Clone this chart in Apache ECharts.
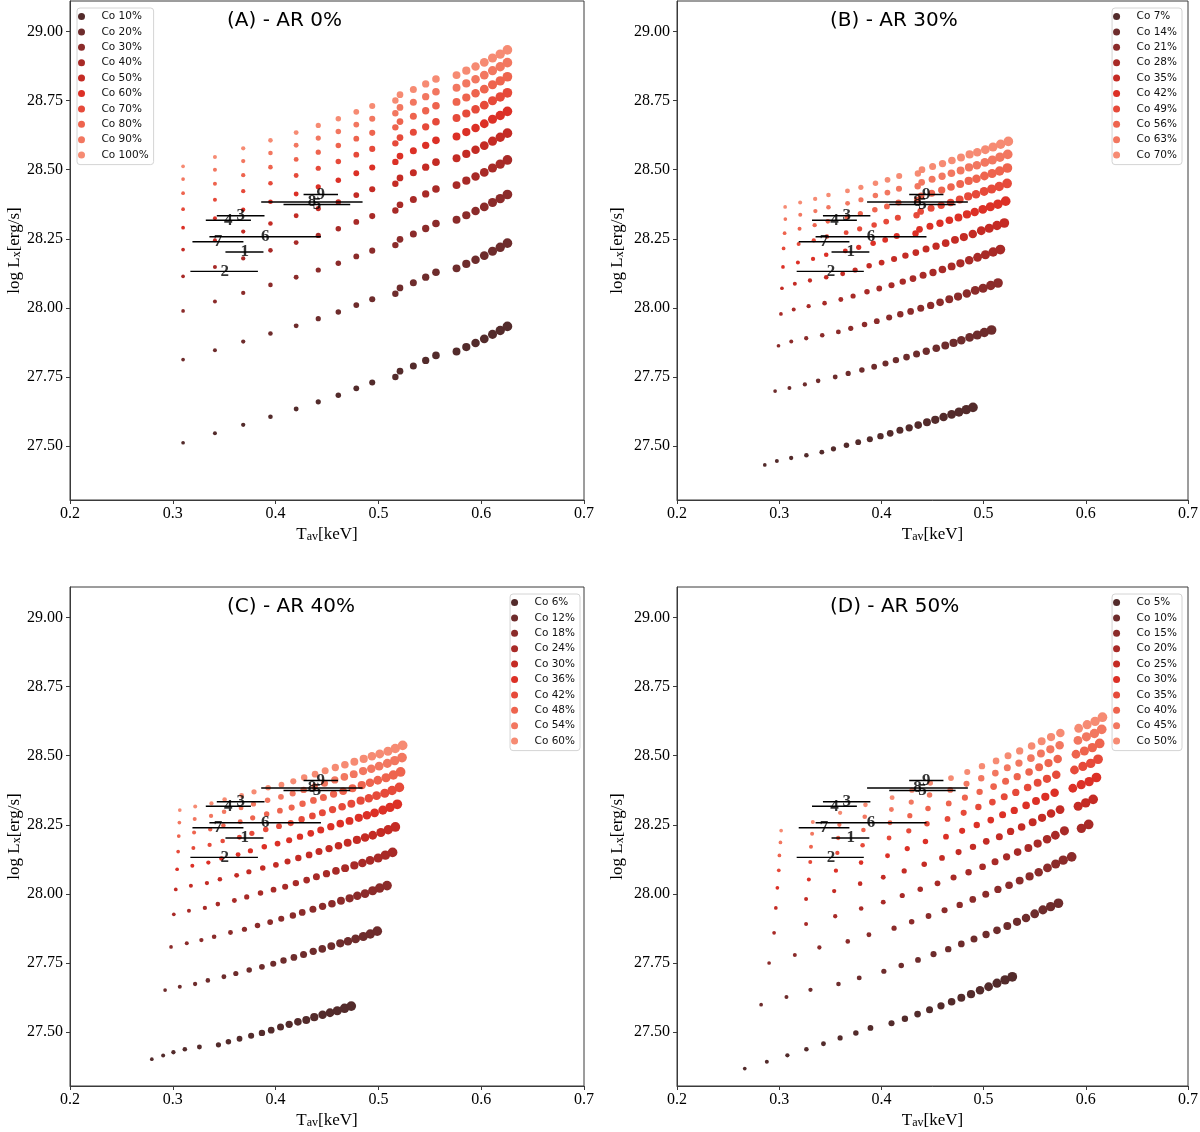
<!DOCTYPE html>
<html>
<head>
<meta charset="utf-8">
<script src="https://cdn.jsdelivr.net/npm/echarts@6.0.0/dist/echarts.min.js"></script>
<style>
  html, body { margin: 0; padding: 0; background: #fff; }
  #container { width: 1200px; height: 1132px; }
</style>
</head>
<body>
<div id="container"></div>
<script>
var dom = document.getElementById('container');
var myChart = echarts.init(dom, null, { renderer: 'canvas' });

// ---- data ----
var panelTitles = ['(A) - AR 0%', '(B) - AR 30%', '(C) - AR 40%', '(D) - AR 50%'];
var xTicks = [0.2, 0.3, 0.4, 0.5, 0.6, 0.7];
var yTicks = [27.5, 27.75, 28.0, 28.25, 28.5, 28.75, 29.0];

// panel A: every Co level shares the same temperatures
var coA = ['Co 10%', 'Co 20%', 'Co 30%', 'Co 40%', 'Co 50%', 'Co 60%', 'Co 70%', 'Co 80%', 'Co 90%', 'Co 100%'];
var tempA = [0.310, 0.341, 0.3685, 0.395, 0.420, 0.4415, 0.461, 0.4785, 0.494, 0.5165, 0.521, 0.534, 0.546, 0.556, 0.576, 0.5855, 0.5945, 0.603, 0.611, 0.6185, 0.6255];
var lumA = [
  [27.512, 27.546, 27.577, 27.606, 27.634, 27.660, 27.684, 27.709, 27.730, 27.750, 27.771, 27.790, 27.810, 27.828, 27.842, 27.858, 27.873, 27.888, 27.904, 27.918, 27.933],
  [27.813, 27.847, 27.878, 27.907, 27.935, 27.961, 27.985, 28.010, 28.031, 28.051, 28.072, 28.091, 28.111, 28.129, 28.143, 28.159, 28.174, 28.189, 28.205, 28.219, 28.234],
  [27.989, 28.023, 28.054, 28.083, 28.111, 28.137, 28.161, 28.186, 28.207, 28.227, 28.248, 28.267, 28.287, 28.305, 28.319, 28.335, 28.350, 28.365, 28.381, 28.395, 28.410],
  [28.114, 28.148, 28.179, 28.208, 28.236, 28.262, 28.286, 28.311, 28.332, 28.352, 28.373, 28.392, 28.412, 28.430, 28.444, 28.460, 28.475, 28.490, 28.506, 28.520, 28.535],
  [28.211, 28.245, 28.276, 28.305, 28.333, 28.359, 28.383, 28.408, 28.429, 28.449, 28.470, 28.489, 28.509, 28.527, 28.541, 28.557, 28.572, 28.587, 28.603, 28.617, 28.632],
  [28.290, 28.324, 28.355, 28.384, 28.412, 28.438, 28.462, 28.487, 28.508, 28.528, 28.549, 28.568, 28.588, 28.606, 28.620, 28.636, 28.651, 28.666, 28.682, 28.696, 28.711],
  [28.357, 28.391, 28.422, 28.451, 28.479, 28.505, 28.529, 28.554, 28.575, 28.595, 28.616, 28.635, 28.655, 28.673, 28.687, 28.703, 28.718, 28.733, 28.749, 28.763, 28.778],
  [28.415, 28.449, 28.480, 28.509, 28.537, 28.563, 28.587, 28.612, 28.633, 28.653, 28.674, 28.693, 28.713, 28.731, 28.745, 28.761, 28.776, 28.791, 28.807, 28.821, 28.836],
  [28.466, 28.500, 28.531, 28.560, 28.588, 28.614, 28.638, 28.663, 28.684, 28.704, 28.725, 28.744, 28.764, 28.782, 28.796, 28.812, 28.827, 28.842, 28.858, 28.872, 28.887],
  [28.512, 28.546, 28.577, 28.606, 28.634, 28.660, 28.684, 28.709, 28.730, 28.750, 28.771, 28.790, 28.810, 28.828, 28.842, 28.858, 28.873, 28.888, 28.904, 28.918, 28.933]
];

// panel B
var coB = ['Co 7%', 'Co 14%', 'Co 21%', 'Co 28%', 'Co 35%', 'Co 42%', 'Co 49%', 'Co 56%', 'Co 63%', 'Co 70%'];
var tempB = [
  [0.2859, 0.2977, 0.3117, 0.3266, 0.3417, 0.3531, 0.3658, 0.3773, 0.3887, 0.3991, 0.4086, 0.4181, 0.4272, 0.4360, 0.4446, 0.4527, 0.4608, 0.4687, 0.4759, 0.4831, 0.4896],
  [0.2960, 0.3100, 0.3251, 0.3381, 0.3548, 0.3675, 0.3809, 0.3929, 0.4040, 0.4142, 0.4246, 0.4344, 0.4439, 0.4537, 0.4625, 0.4706, 0.4782, 0.4863, 0.4938, 0.5007, 0.5078],
  [0.2993, 0.3118, 0.3264, 0.3421, 0.3579, 0.3700, 0.3835, 0.3955, 0.4076, 0.4185, 0.4286, 0.4385, 0.4482, 0.4574, 0.4664, 0.4750, 0.4836, 0.4918, 0.4995, 0.5070, 0.5141],
  [0.3017, 0.3142, 0.3288, 0.3444, 0.3603, 0.3723, 0.3859, 0.3979, 0.4099, 0.4209, 0.4309, 0.4408, 0.4505, 0.4597, 0.4687, 0.4773, 0.4859, 0.4941, 0.5018, 0.5093, 0.5164],
  [0.3027, 0.3153, 0.3301, 0.3460, 0.3621, 0.3743, 0.3880, 0.4002, 0.4124, 0.4235, 0.4337, 0.4437, 0.4535, 0.4629, 0.4720, 0.4807, 0.4894, 0.4977, 0.5055, 0.5131, 0.5203],
  [0.3037, 0.3183, 0.3331, 0.3460, 0.3647, 0.3778, 0.3919, 0.4037, 0.4150, 0.4334, 0.4373, 0.4475, 0.4573, 0.4665, 0.4754, 0.4837, 0.4913, 0.4992, 0.5066, 0.5140, 0.5216],
  [0.3043, 0.3190, 0.3338, 0.3467, 0.3655, 0.3787, 0.3929, 0.4047, 0.4161, 0.4344, 0.4384, 0.4486, 0.4585, 0.4677, 0.4766, 0.4849, 0.4926, 0.5005, 0.5079, 0.5153, 0.5230],
  [0.3053, 0.3199, 0.3347, 0.3476, 0.3663, 0.3794, 0.3936, 0.4054, 0.4167, 0.4350, 0.4389, 0.4492, 0.4590, 0.4681, 0.4771, 0.4854, 0.4930, 0.5008, 0.5083, 0.5157, 0.5233],
  [0.3060, 0.3206, 0.3354, 0.3482, 0.3669, 0.3800, 0.3941, 0.4059, 0.4172, 0.4355, 0.4394, 0.4496, 0.4594, 0.4685, 0.4775, 0.4857, 0.4934, 0.5012, 0.5086, 0.5160, 0.5236],
  [0.3058, 0.3205, 0.3352, 0.3482, 0.3668, 0.3799, 0.3942, 0.4060, 0.4174, 0.4357, 0.4397, 0.4501, 0.4598, 0.4690, 0.4779, 0.4863, 0.4938, 0.5017, 0.5092, 0.5167, 0.5242]
];
var lumB = [
  [27.432, 27.446, 27.457, 27.467, 27.478, 27.490, 27.503, 27.514, 27.525, 27.536, 27.546, 27.557, 27.566, 27.576, 27.586, 27.595, 27.605, 27.615, 27.623, 27.632, 27.640],
  [27.699, 27.710, 27.723, 27.736, 27.750, 27.763, 27.775, 27.787, 27.799, 27.811, 27.822, 27.833, 27.843, 27.854, 27.864, 27.873, 27.883, 27.893, 27.902, 27.911, 27.920],
  [27.863, 27.878, 27.890, 27.901, 27.913, 27.926, 27.940, 27.952, 27.965, 27.977, 27.987, 27.999, 28.009, 28.020, 28.031, 28.041, 28.052, 28.063, 28.071, 28.081, 28.090],
  [27.978, 27.994, 28.006, 28.017, 28.030, 28.043, 28.058, 28.070, 28.082, 28.095, 28.106, 28.118, 28.128, 28.139, 28.150, 28.161, 28.172, 28.183, 28.192, 28.202, 28.211],
  [28.071, 28.087, 28.099, 28.111, 28.123, 28.137, 28.152, 28.164, 28.177, 28.189, 28.200, 28.213, 28.223, 28.234, 28.246, 28.256, 28.267, 28.279, 28.288, 28.298, 28.307],
  [28.148, 28.164, 28.177, 28.192, 28.206, 28.219, 28.234, 28.246, 28.260, 28.269, 28.284, 28.295, 28.306, 28.317, 28.327, 28.338, 28.347, 28.356, 28.366, 28.375, 28.386],
  [28.215, 28.231, 28.244, 28.258, 28.272, 28.286, 28.300, 28.312, 28.326, 28.335, 28.349, 28.360, 28.371, 28.381, 28.392, 28.403, 28.411, 28.421, 28.430, 28.439, 28.450],
  [28.270, 28.286, 28.299, 28.313, 28.328, 28.341, 28.355, 28.367, 28.381, 28.390, 28.405, 28.415, 28.426, 28.437, 28.448, 28.459, 28.467, 28.477, 28.486, 28.495, 28.506],
  [28.321, 28.337, 28.350, 28.364, 28.378, 28.391, 28.406, 28.417, 28.431, 28.440, 28.454, 28.465, 28.476, 28.487, 28.497, 28.508, 28.516, 28.526, 28.535, 28.545, 28.555],
  [28.365, 28.381, 28.394, 28.408, 28.423, 28.436, 28.451, 28.463, 28.477, 28.486, 28.500, 28.511, 28.522, 28.533, 28.544, 28.555, 28.563, 28.572, 28.582, 28.592, 28.602]
];

// panel C
var coC = ['Co 6%', 'Co 12%', 'Co 18%', 'Co 24%', 'Co 30%', 'Co 36%', 'Co 42%', 'Co 48%', 'Co 54%', 'Co 60%'];
var tempC = [
  [0.2796, 0.2906, 0.3006, 0.3117, 0.3259, 0.3444, 0.3541, 0.3649, 0.3762, 0.3867, 0.3957, 0.4048, 0.4132, 0.4217, 0.4298, 0.4376, 0.4457, 0.4529, 0.4600, 0.4671, 0.4736],
  [0.2925, 0.3068, 0.3217, 0.3341, 0.3497, 0.3613, 0.3743, 0.3867, 0.3977, 0.4077, 0.4178, 0.4272, 0.4366, 0.4454, 0.4542, 0.4629, 0.4704, 0.4778, 0.4853, 0.4921, 0.4989],
  [0.2983, 0.3136, 0.3278, 0.3402, 0.3561, 0.3697, 0.3824, 0.3947, 0.4055, 0.4168, 0.4259, 0.4363, 0.4457, 0.4548, 0.4636, 0.4720, 0.4795, 0.4870, 0.4944, 0.5012, 0.5084],
  [0.3010, 0.3157, 0.3312, 0.3438, 0.3599, 0.3719, 0.3853, 0.3980, 0.4093, 0.4197, 0.4302, 0.4397, 0.4495, 0.4587, 0.4676, 0.4766, 0.4844, 0.4919, 0.4998, 0.5068, 0.5138],
  [0.3029, 0.3176, 0.3332, 0.3458, 0.3621, 0.3740, 0.3875, 0.4003, 0.4116, 0.4221, 0.4326, 0.4422, 0.4520, 0.4612, 0.4701, 0.4791, 0.4870, 0.4945, 0.5024, 0.5095, 0.5165],
  [0.3042, 0.3190, 0.3346, 0.3473, 0.3635, 0.3755, 0.3890, 0.4019, 0.4132, 0.4237, 0.4342, 0.4439, 0.4537, 0.4629, 0.4719, 0.4809, 0.4888, 0.4963, 0.5043, 0.5113, 0.5184],
  [0.3052, 0.3200, 0.3358, 0.3485, 0.3648, 0.3769, 0.3904, 0.4033, 0.4147, 0.4253, 0.4358, 0.4455, 0.4554, 0.4647, 0.4737, 0.4827, 0.4907, 0.4982, 0.5062, 0.5133, 0.5204],
  [0.3058, 0.3207, 0.3364, 0.3492, 0.3656, 0.3777, 0.3913, 0.4042, 0.4156, 0.4262, 0.4368, 0.4465, 0.4564, 0.4657, 0.4748, 0.4838, 0.4918, 0.4994, 0.5074, 0.5145, 0.5216],
  [0.3064, 0.3213, 0.3372, 0.3499, 0.3664, 0.3785, 0.3922, 0.4052, 0.4166, 0.4273, 0.4379, 0.4476, 0.4576, 0.4669, 0.4760, 0.4851, 0.4931, 0.5007, 0.5087, 0.5159, 0.5230],
  [0.3068, 0.3218, 0.3376, 0.3504, 0.3669, 0.3790, 0.3927, 0.4057, 0.4172, 0.4278, 0.4384, 0.4482, 0.4581, 0.4674, 0.4766, 0.4857, 0.4937, 0.5013, 0.5093, 0.5164, 0.5236]
];
var lumC = [
  [27.402, 27.415, 27.427, 27.438, 27.446, 27.454, 27.465, 27.476, 27.487, 27.497, 27.507, 27.518, 27.528, 27.537, 27.544, 27.554, 27.563, 27.570, 27.577, 27.586, 27.594],
  [27.652, 27.664, 27.674, 27.687, 27.700, 27.712, 27.725, 27.736, 27.747, 27.759, 27.770, 27.781, 27.792, 27.801, 27.811, 27.821, 27.829, 27.837, 27.846, 27.855, 27.865],
  [27.808, 27.821, 27.833, 27.845, 27.860, 27.872, 27.886, 27.898, 27.910, 27.922, 27.933, 27.944, 27.955, 27.964, 27.975, 27.984, 27.993, 28.001, 28.011, 28.021, 28.030],
  [27.926, 27.939, 27.949, 27.963, 27.976, 27.989, 28.003, 28.015, 28.026, 28.039, 28.050, 28.062, 28.073, 28.083, 28.093, 28.103, 28.112, 28.121, 28.130, 28.140, 28.150],
  [28.016, 28.029, 28.039, 28.053, 28.067, 28.080, 28.094, 28.105, 28.117, 28.130, 28.141, 28.153, 28.164, 28.174, 28.185, 28.195, 28.204, 28.212, 28.222, 28.232, 28.242],
  [28.089, 28.102, 28.113, 28.128, 28.142, 28.156, 28.170, 28.182, 28.194, 28.207, 28.219, 28.231, 28.243, 28.254, 28.264, 28.275, 28.284, 28.293, 28.303, 28.313, 28.324],
  [28.153, 28.166, 28.177, 28.191, 28.205, 28.219, 28.233, 28.245, 28.256, 28.270, 28.282, 28.293, 28.305, 28.315, 28.326, 28.337, 28.346, 28.355, 28.364, 28.374, 28.385],
  [28.209, 28.222, 28.233, 28.247, 28.261, 28.275, 28.289, 28.301, 28.312, 28.326, 28.338, 28.349, 28.361, 28.371, 28.382, 28.393, 28.402, 28.411, 28.420, 28.430, 28.441],
  [28.258, 28.271, 28.282, 28.297, 28.311, 28.325, 28.339, 28.351, 28.363, 28.376, 28.388, 28.400, 28.412, 28.423, 28.433, 28.444, 28.453, 28.462, 28.472, 28.482, 28.493],
  [28.303, 28.316, 28.327, 28.341, 28.356, 28.369, 28.384, 28.395, 28.407, 28.421, 28.433, 28.445, 28.457, 28.467, 28.478, 28.488, 28.498, 28.506, 28.516, 28.526, 28.537]
];

// panel D
var coD = ['Co 5%', 'Co 10%', 'Co 15%', 'Co 20%', 'Co 25%', 'Co 30%', 'Co 35%', 'Co 40%', 'Co 45%', 'Co 50%'];
var tempD = [
  [0.2663, 0.2879, 0.3080, 0.3266, 0.3433, 0.3596, 0.3750, 0.3893, 0.4099, 0.4230, 0.4354, 0.4471, 0.4583, 0.4687, 0.4782, 0.4877, 0.4965, 0.5049, 0.5131, 0.5210, 0.5281],
  [0.2823, 0.3071, 0.3306, 0.3580, 0.3783, 0.4024, 0.4194, 0.4358, 0.4510, 0.4654, 0.4782, 0.4906, 0.5024, 0.5131, 0.5232, 0.5327, 0.5415, 0.5500, 0.5580, 0.5656, 0.5732],
  [0.2901, 0.3153, 0.3393, 0.3671, 0.3878, 0.4124, 0.4296, 0.4461, 0.4618, 0.4766, 0.4894, 0.5021, 0.5140, 0.5249, 0.5353, 0.5450, 0.5539, 0.5625, 0.5705, 0.5779, 0.5862],
  [0.2950, 0.3263, 0.3548, 0.3802, 0.4018, 0.4204, 0.4380, 0.4549, 0.4706, 0.4853, 0.4990, 0.5112, 0.5225, 0.5333, 0.5438, 0.5529, 0.5621, 0.5702, 0.5791, 0.5957, 0.6028],
  [0.2967, 0.3263, 0.3538, 0.3792, 0.4018, 0.4223, 0.4419, 0.4593, 0.4755, 0.4896, 0.5026, 0.5154, 0.5264, 0.5372, 0.5480, 0.5572, 0.5660, 0.5748, 0.5925, 0.5999, 0.6072],
  [0.2982, 0.3290, 0.3555, 0.3801, 0.4060, 0.4253, 0.4431, 0.4632, 0.4790, 0.4933, 0.5070, 0.5186, 0.5300, 0.5416, 0.5513, 0.5604, 0.5695, 0.5873, 0.5955, 0.6033, 0.6104],
  [0.2996, 0.3304, 0.3569, 0.3816, 0.4075, 0.4268, 0.4446, 0.4647, 0.4805, 0.4949, 0.5086, 0.5202, 0.5315, 0.5431, 0.5529, 0.5620, 0.5711, 0.5889, 0.5971, 0.6048, 0.6120],
  [0.3002, 0.3311, 0.3577, 0.3824, 0.4084, 0.4278, 0.4456, 0.4659, 0.4817, 0.4961, 0.5098, 0.5215, 0.5329, 0.5445, 0.5543, 0.5635, 0.5725, 0.5904, 0.5986, 0.6064, 0.6136],
  [0.3012, 0.3322, 0.3589, 0.3837, 0.4098, 0.4292, 0.4471, 0.4674, 0.4833, 0.4977, 0.5115, 0.5232, 0.5346, 0.5463, 0.5561, 0.5653, 0.5744, 0.5923, 0.6006, 0.6084, 0.6156],
  [0.3019, 0.3329, 0.3596, 0.3844, 0.4105, 0.4299, 0.4478, 0.4681, 0.4840, 0.4984, 0.5122, 0.5239, 0.5353, 0.5470, 0.5568, 0.5660, 0.5751, 0.5930, 0.6013, 0.6091, 0.6163]
];
var lumD = [
  [27.368, 27.393, 27.416, 27.438, 27.458, 27.479, 27.497, 27.515, 27.532, 27.548, 27.565, 27.581, 27.595, 27.610, 27.624, 27.637, 27.651, 27.664, 27.677, 27.689, 27.700],
  [27.599, 27.627, 27.653, 27.674, 27.696, 27.720, 27.741, 27.761, 27.782, 27.800, 27.819, 27.837, 27.853, 27.868, 27.884, 27.899, 27.913, 27.928, 27.942, 27.954, 27.966],
  [27.750, 27.779, 27.806, 27.828, 27.852, 27.876, 27.899, 27.920, 27.941, 27.960, 27.980, 27.999, 28.016, 28.031, 28.048, 28.063, 28.078, 28.094, 28.108, 28.122, 28.134],
  [27.859, 27.891, 27.919, 27.947, 27.970, 27.994, 28.017, 28.038, 28.059, 28.078, 28.098, 28.116, 28.134, 28.151, 28.166, 28.182, 28.198, 28.212, 28.228, 28.237, 28.251],
  [27.949, 27.981, 28.010, 28.037, 28.060, 28.083, 28.107, 28.130, 28.151, 28.170, 28.190, 28.207, 28.226, 28.242, 28.259, 28.275, 28.291, 28.305, 28.317, 28.329, 28.342],
  [28.022, 28.052, 28.084, 28.113, 28.138, 28.164, 28.189, 28.207, 28.228, 28.249, 28.267, 28.286, 28.302, 28.320, 28.336, 28.351, 28.366, 28.382, 28.395, 28.406, 28.421],
  [28.085, 28.115, 28.148, 28.176, 28.202, 28.228, 28.254, 28.271, 28.293, 28.314, 28.332, 28.351, 28.367, 28.385, 28.402, 28.416, 28.431, 28.448, 28.461, 28.472, 28.487],
  [28.139, 28.170, 28.202, 28.231, 28.257, 28.283, 28.309, 28.327, 28.348, 28.369, 28.388, 28.407, 28.424, 28.441, 28.458, 28.473, 28.488, 28.505, 28.517, 28.529, 28.544],
  [28.186, 28.217, 28.250, 28.279, 28.305, 28.332, 28.358, 28.376, 28.398, 28.418, 28.437, 28.456, 28.473, 28.491, 28.508, 28.523, 28.538, 28.555, 28.568, 28.580, 28.595],
  [28.229, 28.260, 28.293, 28.322, 28.348, 28.375, 28.401, 28.419, 28.441, 28.462, 28.481, 28.500, 28.517, 28.535, 28.552, 28.567, 28.582, 28.599, 28.612, 28.624, 28.639]
];

// observed stars (same in every panel)
var starIds = ['1', '2', '3', '4', '5', '6', '7', '8', '9'];
var starT   = [0.3699, 0.3506, 0.3660, 0.3540, 0.4402, 0.3899, 0.3439, 0.4353, 0.4439];
var starTLo = [0.3512, 0.3171, 0.3428, 0.3321, 0.4077, 0.3356, 0.3191, 0.3860, 0.4272];
var starTHi = [0.3882, 0.3828, 0.3892, 0.3760, 0.4726, 0.4441, 0.3687, 0.4846, 0.4607];
var starL   = [28.202, 28.132, 28.333, 28.317, 28.374, 28.257, 28.239, 28.383, 28.410];

// ---- styling ----
var palette = ['#532b2b', '#6e2c2c', '#8b2b2a', '#a82a27', '#c42b24', '#dc3026', '#e64a3a', '#ee644e', '#f27760', '#f68b73'];
var serif = 'Liberation Serif';
var sans = 'DejaVu Sans';
var frame = '#3a3a3a';

var grids = [
  { left: 70,  top: 1,   width: 514, height: 499 },
  { left: 677, top: 1,   width: 511, height: 499 },
  { left: 70,  top: 587, width: 514, height: 499 },
  { left: 677, top: 587, width: 511, height: 499 }
];
var yNameGap = [44, 51, 44, 51];
var titlePos = [[227, 11], [830, 11], [227, 597], [830, 597]];
var legendPos = [
  { left: 77, top: 8 },
  { right: 18, top: 8 },
  { right: 620, top: 594 },
  { right: 18, top: 594 }
];
var suffix = ['', ' ', '  ', '   '];
var panelNames = [coA, coB, coC, coD];

var option = {
  backgroundColor: '#ffffff',
  animation: false,
  title: panelTitles.map(function (t, p) {
    return {
      text: t, left: titlePos[p][0], top: titlePos[p][1], padding: 0,
      textStyle: { fontFamily: sans, fontSize: 20, fontWeight: 'normal', color: '#000' }
    };
  }),
  grid: grids.map(function (g) {
    return Object.assign({ show: true, borderColor: frame, borderWidth: 1, backgroundColor: '#fff', containLabel: false, outerBoundsMode: 'none' }, g);
  }),
  legend: legendPos.map(function (pos, p) {
    return Object.assign({
      orient: 'vertical',
      data: panelNames[p].map(function (n) { return n + suffix[p]; }),
      formatter: function (n) { return n.trim(); },
      icon: 'circle',
      itemWidth: 30, itemHeight: 7, itemGap: 4.4,
      padding: [3, 5, 4, 1],
      backgroundColor: '#fff', borderColor: '#d4d4d4', borderWidth: 1, borderRadius: 3,
      selectedMode: false,
      textStyle: { fontFamily: sans, fontSize: 10.5, color: '#111', lineHeight: 11 }
    }, pos);
  }),
  xAxis: grids.map(function (g, p) {
    return {
      gridIndex: p, type: 'value', min: 0.2, max: 0.7, interval: 0.1,
      axisLine: { show: true, onZero: false, lineStyle: { color: frame, width: 1 } },
      axisTick: { show: true, inside: false, length: 4, lineStyle: { color: frame } },
      axisLabel: { margin: 6, color: '#000', fontFamily: serif, fontSize: 16, formatter: function (v) { return v.toFixed(1); } },
      splitLine: { show: false },
      name: '{r|T}{s|av}{r|[keV]}',
      nameLocation: 'middle', nameGap: 23,
      nameTextStyle: {
        rich: {
          r: { fontFamily: serif, fontSize: 17, color: '#000', verticalAlign: 'bottom', lineHeight: 20 },
          s: { fontFamily: serif, fontSize: 12, color: '#000', verticalAlign: 'bottom', lineHeight: 9 }
        }
      }
    };
  }),
  yAxis: grids.map(function (g, p) {
    return {
      gridIndex: p, type: 'value', min: 27.305, max: 29.11,
      axisLine: { show: true, onZero: false, lineStyle: { color: frame, width: 1 } },
      axisTick: { show: true, inside: false, length: 4, customValues: yTicks, lineStyle: { color: frame } },
      axisLabel: { margin: 7, color: '#000', fontFamily: serif, fontSize: 16, customValues: yTicks, formatter: function (v) { return v.toFixed(2); } },
      splitLine: { show: false },
      name: '{r|log L}{s|x}{r|[erg/s]}',
      nameLocation: 'middle', nameGap: yNameGap[p], nameRotate: 90,
      nameTextStyle: {
        rich: {
          r: { fontFamily: serif, fontSize: 17, color: '#000', verticalAlign: 'bottom', lineHeight: 20 },
          s: { fontFamily: serif, fontSize: 12, color: '#000', verticalAlign: 'bottom', lineHeight: 9 }
        }
      }
    };
  }),
  series: []
};

function sizeByIndex(val, params) {
  return 3.7 + 0.3 * params.dataIndex;
}

function addModelSeries(p, names, temps, lums) {
  names.forEach(function (nm, k) {
    var xs = Array.isArray(temps[0]) ? temps[k] : temps;
    option.series.push({
      type: 'scatter',
      name: nm + suffix[p],
      xAxisIndex: p, yAxisIndex: p,
      data: xs.map(function (t, i) { return [t, lums[k][i]]; }),
      symbol: 'circle',
      symbolSize: sizeByIndex,
      itemStyle: { color: palette[k], opacity: 1 },
      silent: true,
      z: 2
    });
  });
}

function addStars(p) {
  option.series.push({
    type: 'custom',
    xAxisIndex: p, yAxisIndex: p,
    data: starIds.map(function (s, i) { return [starTLo[i], starTHi[i], starL[i]]; }),
    encode: { x: [0, 1], y: 2 },
    renderItem: function (params, api) {
      var a = api.coord([api.value(0), api.value(2)]);
      var b = api.coord([api.value(1), api.value(2)]);
      return {
        type: 'line',
        shape: { x1: a[0], y1: a[1], x2: b[0], y2: b[1] },
        style: { stroke: '#000', lineWidth: 1.4 }
      };
    },
    silent: true,
    z: 3
  });
  option.series.push({
    type: 'scatter',
    xAxisIndex: p, yAxisIndex: p,
    data: starIds.map(function (s, i) { return { name: s, value: [starT[i], starL[i]] }; }),
    symbolSize: 1,
    itemStyle: { color: 'rgba(0,0,0,0)' },
    label: {
      show: true, position: 'inside', formatter: '{b}',
      fontFamily: serif, fontWeight: 'bold', fontSize: 17, color: '#000'
    },
    silent: true,
    z: 4
  });
}

addModelSeries(0, coA, tempA, lumA);
addModelSeries(1, coB, tempB, lumB);
addModelSeries(2, coC, tempC, lumC);
addModelSeries(3, coD, tempD, lumD);
for (var p = 0; p < 4; p++) addStars(p);

if (option && typeof option === 'object') {
  myChart.setOption(option);
}
</script>
</body>
</html>
